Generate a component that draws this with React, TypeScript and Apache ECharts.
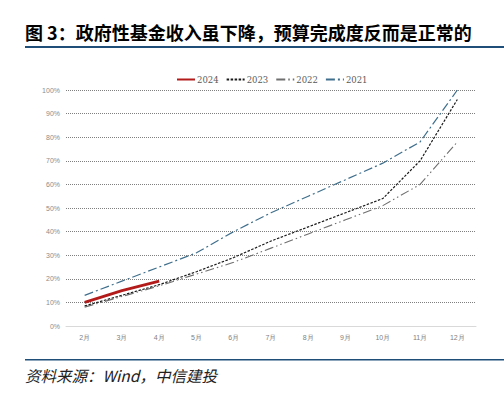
import React, { useEffect, useRef } from "react";
import * as echarts from "echarts";

const months = ["2月", "3月", "4月", "5月", "6月", "7月", "8月", "9月", "10月", "11月", "12月"];
const s2024 = [10, 15, 19];
const s2023 = [8.5, 13, 17.5, 23, 29, 36, 42, 48, 54, 70, 96];
const s2022 = [8, 12.5, 17, 22, 27, 33, 39, 45, 51, 60, 78];
const s2021 = [13, 19, 25, 31, 40, 48, 55, 62, 69, 78, 100];
const yTicks = [0, 10, 20, 30, 40, 50, 60, 70, 80, 90, 100];

const TITLE = "图 3：政府性基金收入虽下降，预算完成度反而是正常的";
const SOURCE = "资料来源：Wind，中信建投";

export default function App() {
  const ref = useRef<HTMLDivElement>(null);
  useEffect(() => {
    document.body.style.margin = "0";
    const chart = echarts.init(ref.current!, null, { renderer: "svg" });
    const data2024 = s2024.map((v, i) =>
      i === s2024.length - 1
        ? {
            value: v,
            label: {
              show: true,
              position: "bottom",
              offset: [8, 3],
              formatter: "{c}%",
              fontSize: 8,
              fontWeight: "bold",
              color: "#404040",
              fontFamily: "DejaVu Sans",
            },
          }
        : v
    );
    chart.setOption({
      animation: false,
      backgroundColor: "#ffffff",
      graphic: [
        {
          type: "text",
          left: 25,
          top: 23,
          style: {
            text: TITLE,
            font: 'bold 18px "Noto Sans CJK SC"',
            fill: "#000000",
          },
        },
        {
          type: "rect",
          shape: { x: 25, y: 46, width: 479, height: 2 },
          style: { fill: "#1f4e79" },
        },
        {
          type: "rect",
          shape: { x: 25, y: 359, width: 479, height: 1.5 },
          style: { fill: "#1f4e79" },
        },
        {
          type: "text",
          left: 25,
          top: 367,
          style: {
            text: SOURCE,
            font: 'italic 15.5px "Noto Sans CJK SC"',
            fill: "#222222",
          },
        },
      ],
      legend: {
        top: 70,
        left: 171,
        itemWidth: 18,
        itemHeight: 10,
        itemGap: 7,
        itemStyle: { color: "transparent", borderColor: "transparent", borderWidth: 0 },
        textStyle: { fontSize: 8.5, color: "#595959", fontFamily: "DejaVu Serif", padding: [0, 0, 0, -3] },
        data: ["2024", "2023", "2022", "2021"],
      },
      grid: { left: 66, right: 28, top: 90, bottom: 72 },
      xAxis: {
        type: "category",
        data: months,
        boundaryGap: true,
        axisTick: { show: false },
        axisLine: { lineStyle: { color: "#d9d9d9", width: 1 } },
        axisLabel: { fontSize: 7, color: "#7f7f7f", margin: 8 },
      },
      yAxis: {
        type: "value",
        min: 0,
        max: 100,
        interval: 10,
        axisLabel: {
          fontSize: 7,
          color: "#8c8c8c",
          margin: 6,
          formatter: (v: number) => (yTicks.includes(v) ? v + "%" : ""),
        },
        axisLine: { show: false },
        axisTick: { show: false },
        splitLine: { lineStyle: { color: "#7f7f7f", type: [1, 1], width: 1 } },
      },
      series: [
        {
          name: "2024",
          type: "line",
          data: data2024,
          symbol: "none",
          z: 5,
          lineStyle: { color: "#b31b1b", width: 2.8 },
          itemStyle: { color: "#b31b1b" },
        },
        {
          name: "2023",
          type: "line",
          data: s2023,
          symbol: "none",
          lineStyle: { color: "#1a1a1a", width: 1.2, type: [2.5, 1.5] },
          itemStyle: { color: "#1a1a1a" },
        },
        {
          name: "2022",
          type: "line",
          data: s2022,
          symbol: "none",
          lineStyle: { color: "#6f6f6f", width: 1.1, type: [9, 3, 1.5, 3, 1.5, 3] },
          itemStyle: { color: "#6f6f6f" },
        },
        {
          name: "2021",
          type: "line",
          data: s2021,
          symbol: "none",
          lineStyle: { color: "#3f6f8c", width: 1.2, type: [9, 3, 2, 3] },
          itemStyle: { color: "#3f6f8c" },
        },
      ],
    });
    return () => chart.dispose();
  }, []);
  return (
    <div
      ref={ref}
      style={{ position: "absolute", left: 0, top: 0, width: 504, height: 398 }}
    />
  );
}
